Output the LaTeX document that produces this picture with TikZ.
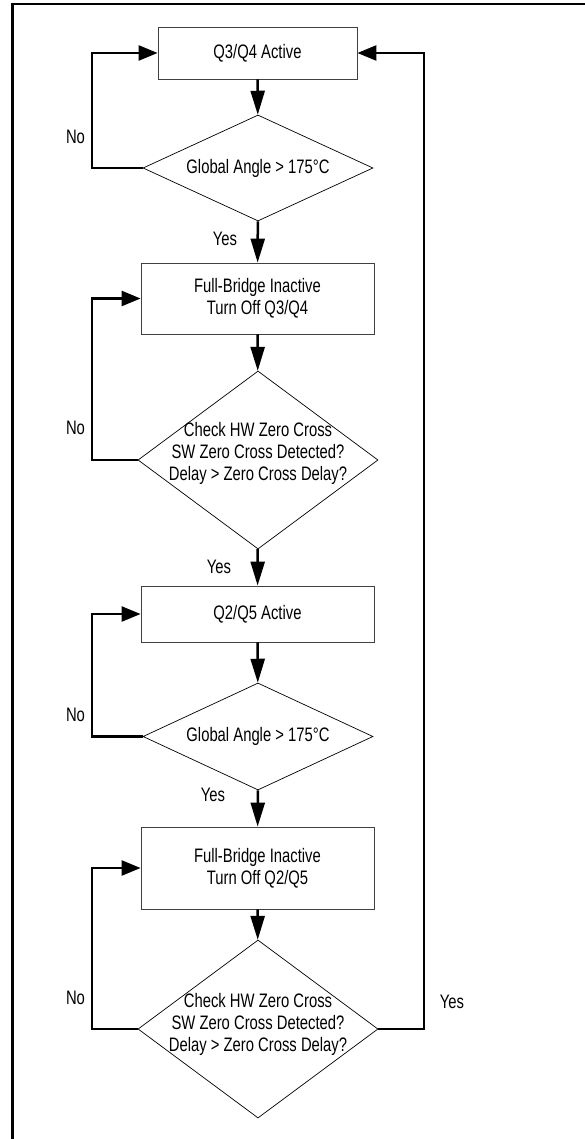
\documentclass[tikz,border=0pt]{standalone}
\usepackage{fontspec}
\setmainfont{Liberation Sans}[FakeStretch=0.76]
\usetikzlibrary{arrows.meta,shapes.geometric}
\begin{document}
\begin{tikzpicture}[x=1pt,y=-1pt,
  font=\fontsize{19.5}{22}\selectfont,
  process/.style 2 args={draw=black!75,line width=0.8pt,rectangle,inner sep=0pt,
    minimum width=#1,minimum height=#2,align=center},
  decision/.style 2 args={draw=black,line width=0.7pt,diamond,inner sep=0pt,
    minimum width=#1,minimum height=#2},
  txt/.style={inner sep=0pt,align=center},
  vflow/.style={line width=2.5pt,-{Triangle[length=24pt,width=14pt]}},
  hflow/.style={line width=2.5pt,-{Triangle[length=19pt,width=15pt]}},
  frameline/.style={line width=2.2pt}]
\useasboundingbox (0,0) rectangle (585,1139);

% page frame (left and top edges)
\coordinate (ftl) at (12.5,4);
\coordinate (fbl) at (12.5,1139);
\coordinate (ftr) at (585,4);
\draw[frameline] (fbl) -- (ftl) -- (ftr);

% process boxes
\node[process={199pt}{52pt}] (b1) at (257.5,53) {Q3/Q4 Active};
\node[process={233pt}{71pt}] (b2) at (257.5,298.5) {Full-Bridge Inactive\\Turn Off Q3/Q4};
\node[process={233pt}{56pt}] (b3) at (257.5,614) {Q2/Q5 Active};
\node[process={233pt}{82pt}] (b4) at (257.5,868) {Full-Bridge Inactive\\Turn Off Q2/Q5};

% decisions
\node[decision={230pt}{106pt}] (d1) at (258,168) {};
\node[txt] (d1t) at (258,168) {Global Angle > 175°C};
\node[decision={240pt}{178pt}] (d2) at (258,460) {};
\node[txt] (d2t) at (258,453) {Check HW Zero Cross\\SW Zero Cross Detected?\\Delay > Zero Cross Delay?};
\node[decision={230pt}{107pt}] (d3) at (258,736.5) {};
\node[txt] (d3t) at (258,736.5) {Global Angle > 175°C};
\node[decision={240pt}{178pt}] (d4) at (258,1029) {};
\node[txt] (d4t) at (258,1024) {Check HW Zero Cross\\SW Zero Cross Detected?\\Delay > Zero Cross Delay?};

% main flow
\draw[vflow] (b1) -- (d1);
\draw[vflow] (d1) -- (b2);
\draw[vflow] (b2) -- (d2);
\draw[vflow] (d2) -- (b3);
\draw[vflow] (b3) -- (d3);
\draw[vflow] (d3) -- (b4);
\draw[vflow] (b4) -- (d4);

% "No" loops back to the preceding box
\draw[hflow] (d1.west) -| (92,0 |- b1.west) -- (b1.west);
\draw[hflow] (d2.west) -| (92,0 |- b2.west) -- (b2.west);
\draw[hflow] (d3.west) -| (92,0 |- b3.west) -- (b3.west);
\draw[hflow] (d4.west) -| (92,0 |- b4.west) -- (b4.west);

% "Yes" return to the start
\coordinate (rb) at (424,1029);
\coordinate (rt) at (424,53);
\draw[hflow] (d4.east) -- (rb) -- (rt) -- (b1.east);

% branch labels
\node[txt] (no1) at (75.5,137) {No};
\node[txt] (no2) at (75.5,428) {No};
\node[txt] (no3) at (75.5,715) {No};
\node[txt] (no4) at (75.5,998) {No};
\node[txt] (yes1) at (225,239) {Yes};
\node[txt] (yes2) at (219,567) {Yes};
\node[txt] (yes3) at (213,795) {Yes};
\node[txt] (yes4) at (452,1002) {Yes};
\end{tikzpicture}
\end{document}
